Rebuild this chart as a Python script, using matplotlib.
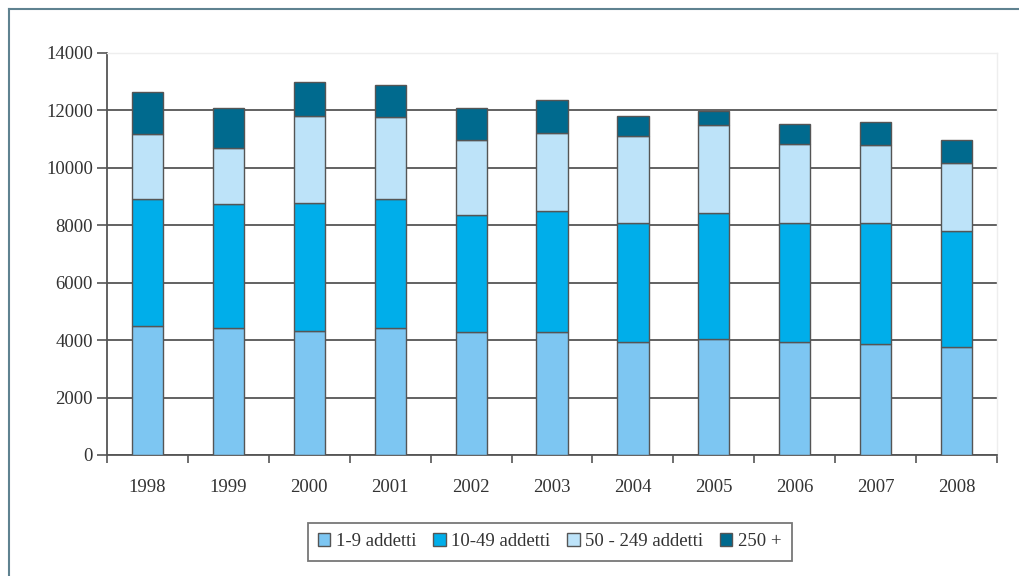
import numpy as np
import matplotlib
matplotlib.use("Agg")
import matplotlib.pyplot as plt
from matplotlib.lines import Line2D

years = ["1998", "1999", "2000", "2001", "2002", "2003",
         "2004", "2005", "2006", "2007", "2008"]
micro = [4500, 4410, 4320, 4410, 4300, 4280, 3940, 4030, 3940, 3870, 3750]
small = [4400, 4320, 4450, 4500, 4060, 4230, 4130, 4390, 4130, 4200, 4040]
medium = [2280, 1970, 3040, 2850, 2610, 2720, 3040, 3070, 2750, 2730, 2370]
large = [1470, 1370, 1170, 1140, 1100, 1140, 700, 490, 690, 810, 810]

labels = ["1-9 addetti", "10-49 addetti", "50 - 249 addetti", "250 +"]
colors = ["#7DC6F2", "#00AEEA", "#BDE3F9", "#006A8E"]
y_ticks = [0, 2000, 4000, 6000, 8000, 10000, 12000, 14000]

plt.rcParams["font.family"] = ["Liberation Serif", "DejaVu Serif"]
plt.rcParams["text.color"] = "#333333"
plt.rcParams["xtick.labelcolor"] = "#333333"
plt.rcParams["ytick.labelcolor"] = "#333333"

fig = plt.figure(figsize=(10.2, 5.76), dpi=100)
ax = fig.add_axes([0.1049, 0.2101, 0.8726, 0.6979])

x = np.arange(len(years))
bottom = np.zeros(len(years))
for vals, lab, col in zip([micro, small, medium, large], labels, colors):
    ax.bar(x, vals, width=0.385, bottom=bottom, color=col, edgecolor="#555555",
           linewidth=1.0, label=lab, zorder=3)
    bottom += np.array(vals)

ax.set_xlim(-0.5, len(years) - 0.5)
ax.set_ylim(0, 14000)
ax.set_yticks(y_ticks)
ax.set_yticklabels([str(v) for v in y_ticks])
ax.set_xticks(x)
ax.set_xticklabels(years)
ax.set_xticks(np.arange(-0.5, len(years)), minor=True)
ax.tick_params(axis="x", which="major", length=0, pad=17, labelsize=13.5)
ax.tick_params(axis="x", which="minor", length=6, width=1.2, color="#555555",
               direction="out")
ax.tick_params(axis="y", length=7, width=1.2, color="#555555", labelsize=13.5,
               pad=3)

ax.yaxis.grid(True, color="#555555", linewidth=1.3, zorder=0)
ax.set_axisbelow(True)
ax.get_ygridlines()[-1].set_visible(False)

for side in ["top", "right"]:
    ax.spines[side].set_color("#eeeeee")
    ax.spines[side].set_linewidth(1.0)
for side in ["left", "bottom"]:
    ax.spines[side].set_color("#555555")
    ax.spines[side].set_linewidth(1.3)

leg = fig.legend(loc="center", bbox_to_anchor=(0.5392, 0.0595), ncol=4,
                 fontsize=13.5, frameon=True, fancybox=False, edgecolor="#555555",
                 handlelength=0.65, handleheight=0.65, handletextpad=0.3,
                 columnspacing=0.9, borderpad=0.55, borderaxespad=0)
leg.get_frame().set_linewidth(1.3)

# outer frame (top and left edges only visible)
fig.add_artist(Line2D([9 / 1020, 1.0], [1 - 9 / 576, 1 - 9 / 576],
                      transform=fig.transFigure, color="#5F8290", linewidth=1.5))
fig.add_artist(Line2D([9 / 1020, 9 / 1020], [0.0, 1 - 9 / 576],
                      transform=fig.transFigure, color="#5F8290", linewidth=1.5))

fig.savefig("out.png", dpi=100)
